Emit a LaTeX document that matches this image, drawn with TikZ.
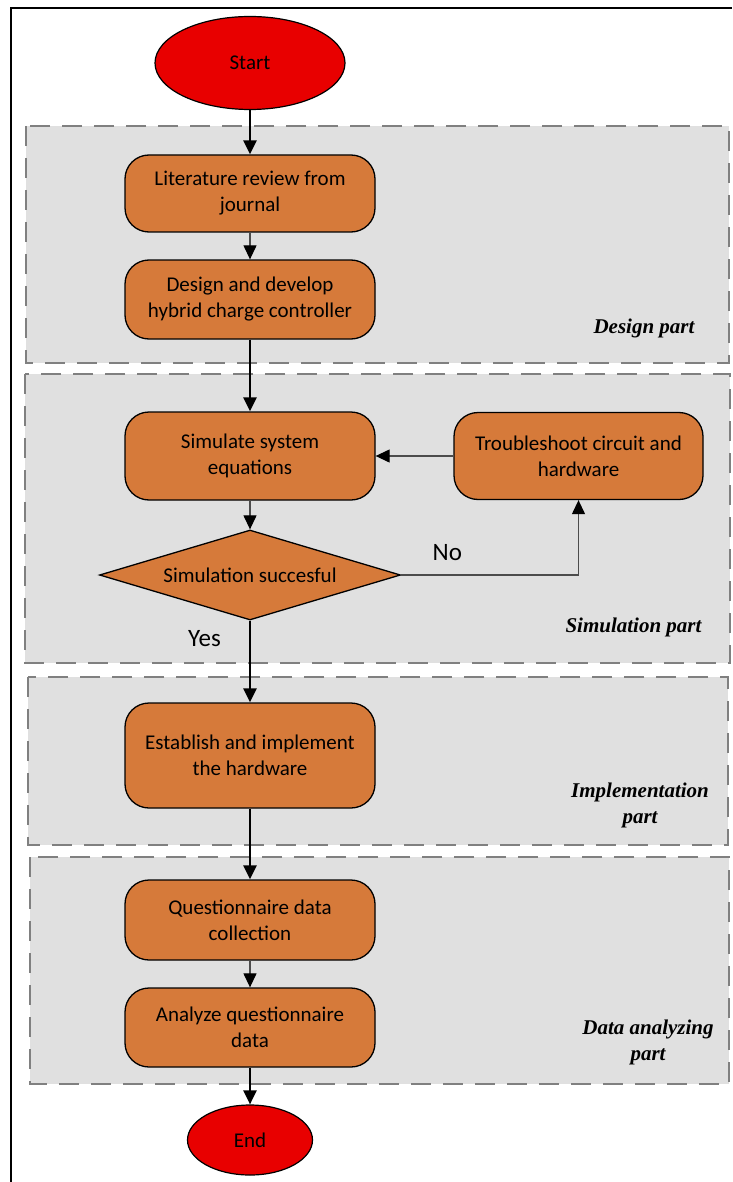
\documentclass[tikz,border=0pt]{standalone}
\usepackage{fontspec}
\setmainfont{Carlito}
\newfontfamily\partfont{Liberation Serif}
\usepackage{tikz}
\usetikzlibrary{arrows.meta,shapes,backgrounds,positioning}
\definecolor{boxorange}{RGB}{214,122,58}
\definecolor{termred}{RGB}{232,0,0}
\definecolor{partgray}{RGB}{224,224,224}
\definecolor{dashgray}{RGB}{128,128,128}

\begin{document}
\begin{tikzpicture}[x=1pt,y=-1pt,on grid,node distance=100pt,>={Triangle[length=14pt,width=13pt]},
        every node/.style={font=\fontsize{21}{26}\selectfont},
        process/.style={draw,line width=1.3pt,fill=boxorange,rounded corners=24pt,minimum width=250pt,align=center},
        terminal/.style={ellipse,draw,line width=1.2pt,fill=termred},
        decision/.style={diamond,draw,line width=1.3pt,fill=boxorange,aspect=3.3,inner sep=0pt,minimum width=301pt,minimum height=90pt},
        partbox/.style={draw=dashgray,fill=partgray,line width=2.5pt,dash pattern=on 20pt off 12pt},
        partlabel/.style={font=\partfont\bfseries\itshape\fontsize{21}{26}\selectfont,align=center},
        answer/.style={font=\fontsize{25}{30}\selectfont,inner sep=2pt},
        flow/.style={->,line width=2.4pt},
        link/.style={-{Triangle[length=14pt,width=13pt,color=black]},line width=1.2pt,draw=black!70}]
                \useasboundingbox (0,0) rectangle (732,1182);
                \draw[line width=2pt] (11,1182) -- (11,8) -- (732,8);

                % the four parts
                \draw[partbox] (26,126)  rectangle (729,363);
                \draw[partbox] (25,374)  rectangle (730,663);
                \draw[partbox] (28,677)  rectangle (728,845);
                \draw[partbox] (30,857)  rectangle (729,1084);

                \node[partlabel,anchor=east] (p_design) at (698,328)  {Design part};
                \node[partlabel,anchor=east] (p_sim)    at (705,627)  {Simulation part};
                \node[partlabel]             (p_impl)   at (640,805)  {Implementation\\part};
                \node[partlabel]             (p_data)   at (648,1042) {Data analyzing\\part};

                % flow
                \node[terminal,minimum width=190pt,minimum height=93pt] (start) at (250,63) {Start};
                \node[process,minimum height=77pt]  (review)   [below of = start, node distance=130.5pt]   {Literature review from\\journal};
                \node[process,minimum height=79pt]  (design)   [below of = review, node distance=106pt]    {Design and develop\\hybrid charge controller};
                \node[process,minimum height=88pt]  (simulate) [below of = design, node distance=156.5pt]  {Simulate system\\equations};
                \node[process,minimum height=87pt,minimum width=249pt] (trouble) [right of = simulate, node distance=328.5pt] {Troubleshoot circuit and\\hardware};
                \node[decision]                     (check)    [below of = simulate, node distance=119pt]  {Simulation succesful};
                \node[process,minimum height=105pt] (hardware) [below of = check, node distance=180.5pt]   {Establish and implement\\the hardware};
                \node[process,minimum height=80pt]  (collect)  [below of = hardware, node distance=164.5pt] {Questionnaire data\\collection};
                \node[process,minimum height=79pt]  (analyze)  [below of = collect, node distance=107.5pt]  {Analyze questionnaire\\data};
                \node[terminal,minimum width=125pt,minimum height=70pt] (stop) [below of = analyze, node distance=112.5pt] {End};

            \path   (start)    edge[flow] (review)
                    (review)   edge[link] (design)
                    (design)   edge[flow] (simulate)
                    (simulate) edge[link] (check)
                    (trouble)  edge[link] (simulate)
                    (check)    edge[flow] node[answer,pos=0.22,left=26pt] (yes) {Yes} (hardware)
                    (hardware) edge[flow] (collect)
                    (collect)  edge[link] (analyze)
                    (analyze)  edge[flow] (stop);
            \draw[link] (check.east) -| node[answer,pos=0.13,above=12pt] (no) {No} (trouble.south);
        	\end{tikzpicture}
\end{document}
